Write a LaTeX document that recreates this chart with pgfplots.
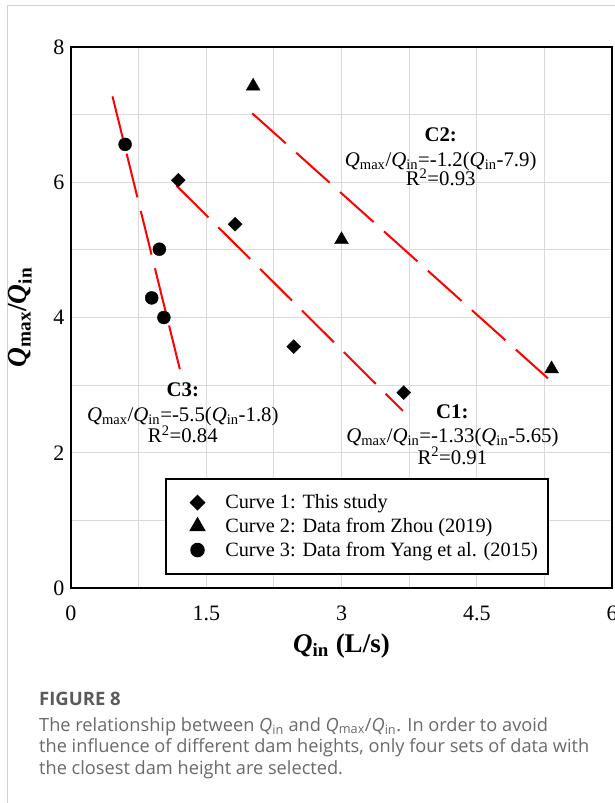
\documentclass[border=0pt]{standalone}
\usepackage{fontspec}
\setmainfont{Liberation Serif}
\newfontfamily\capfont{Open Sans}
\usepackage{pgfplots}
\pgfplotsset{compat=1.18}
\definecolor{gridgray}{HTML}{DADADA}
\definecolor{capgray}{HTML}{6A6A6A}
\definecolor{capdark}{HTML}{5A5A5A}
\definecolor{framegray}{HTML}{D0D0D0}
\newcommand{\Q}{\textit{Q}}
\newcommand{\anfont}{\fontsize{20.8}{24}\selectfont}
\begin{document}
\begin{tikzpicture}
\path[use as bounding box] (0,0) rectangle (615pt,-803pt);
\draw[framegray, line width=1pt] (7pt,-803pt) -- (7pt,-5pt) -- (615pt,-5pt);
\begin{axis}[
 at={(71pt,-588pt)}, anchor=south west,
 scale only axis, width=541pt, height=541pt,
 xmin=0, xmax=6, ymin=0, ymax=8,
 xtick={0,1.5,3,4.5,6}, xticklabels={0,1.5,3,4.5,6},
 minor xtick={0.75,2.25,3.75,5.25},
 ytick={0,2,4,6,8}, yticklabels={0,2,4,6,8},
 minor ytick={1,3,5,7},
 grid=both,
 major grid style={gridgray, line width=1pt},
 minor grid style={gridgray, line width=1pt},
 major tick length=0pt, minor tick length=0pt,
 axis line style={black, line width=2pt},
 tick label style={font=\fontsize{22}{26}\selectfont},
 xticklabel style={yshift=-14pt},
 yticklabel style={xshift=-3pt},
 xlabel={\textbf{\textit{Q}\textsubscript{in} (L/s)}},
 xlabel style={font=\fontsize{27}{30}\selectfont, at={(axis description cs:0.5,-0.107)}, anchor=center},
 ylabel={\textbf{\textit{Q}\textsubscript{max}/\textit{Q}\textsubscript{in}}},
 ylabel style={font=\fontsize{27.5}{30}\selectfont, at={(axis description cs:-0.094,0.5)}, anchor=center},
 legend style={at={(0.1738,0.2033)}, anchor=north west, draw=black, line width=1.5pt,
   font=\fontsize{20.3}{24}\selectfont, row sep=4pt, inner xsep=8pt, inner ysep=14pt},
 legend cell align=left,
 legend image code/.code={\path (0pt,0pt) (48pt,0pt); \draw[#1] plot coordinates {(23pt,0pt)};},
]
% fitted lines
\addplot[forget plot, red, line width=2pt, dash pattern=on 45pt off 14pt] coordinates {(1.17,5.95) (3.68,2.62)};
\addplot[forget plot, red, line width=2pt, dash pattern=on 45pt off 14pt] coordinates {(2.01,7.02) (5.29,3.10)};
\addplot[forget plot, red, line width=2pt, dash pattern=on 45pt off 14pt] coordinates {(0.46,7.27) (1.21,3.22)};
% data
\addplot[only marks, mark=square*, mark size=4.9pt, mark options={rotate=45, fill=black, draw=black}]
 coordinates {(1.19,6.03) (1.82,5.38) (2.47,3.57) (3.69,2.89)};
\addlegendentry{Curve 1: This study}
\addplot[only marks, mark=triangle*, mark size=8pt, mark options={fill=black, draw=black}]
 coordinates {(2.02,7.42) (3.00,5.15) (5.33,3.24)};
\addlegendentry{Curve 2: Data from Zhou (2019)}
\addplot[only marks, mark=*, mark size=6.5pt, mark options={fill=black, draw=black}]
 coordinates {(0.60,6.56) (0.98,5.01) (0.895,4.29) (1.03,4.00)};
\addlegendentry{Curve 3: Data from Yang et al. (2015)}
% annotations
\node[anchor=base, font=\anfont\bfseries] at (axis cs:4.10,6.61) {C2:};
\node[anchor=base, font=\anfont] at (axis cs:4.10,6.24) {\Q\textsubscript{max}/\Q\textsubscript{in}=-1.2(\Q\textsubscript{in}-7.9)};
\node[anchor=base, font=\anfont] at (axis cs:4.10,5.95) {R\textsuperscript{2}=0.93};
\node[anchor=base, font=\anfont\bfseries] at (axis cs:1.24,2.83) {C3:};
\node[anchor=base, font=\anfont] at (axis cs:1.24,2.46) {\Q\textsubscript{max}/\Q\textsubscript{in}=-5.5(\Q\textsubscript{in}-1.8)};
\node[anchor=base, font=\anfont] at (axis cs:1.24,2.15) {R\textsuperscript{2}=0.84};
\node[anchor=base, font=\anfont\bfseries] at (axis cs:4.23,2.51) {C1:};
\node[anchor=base, font=\anfont] at (axis cs:4.23,2.15) {\Q\textsubscript{max}/\Q\textsubscript{in}=-1.33(\Q\textsubscript{in}-5.65)};
\node[anchor=base, font=\anfont] at (axis cs:4.23,1.83) {R\textsuperscript{2}=0.91};
\end{axis}
% caption
\node[anchor=base west, font=\capfont\fontsize{18.5}{20}\selectfont\bfseries, text=capdark, inner sep=0pt] at (39pt,-705pt) {FIGURE 8};
\node[anchor=base west, font=\capfont\fontsize{18.2}{20}\selectfont, text=capgray, inner sep=0pt] at (39pt,-731pt) {The relationship between \textit{Q}\textsubscript{in} and \textit{Q}\textsubscript{max}/\textit{Q}\textsubscript{in}. In order to avoid};
\node[anchor=base west, font=\capfont\fontsize{18.2}{20}\selectfont, text=capgray, inner sep=0pt] at (39pt,-752.5pt) {the influence of different dam heights, only four sets of data with};
\node[anchor=base west, font=\capfont\fontsize{18.2}{20}\selectfont, text=capgray, inner sep=0pt] at (39pt,-774pt) {the closest dam height are selected.};
\end{tikzpicture}
\end{document}
